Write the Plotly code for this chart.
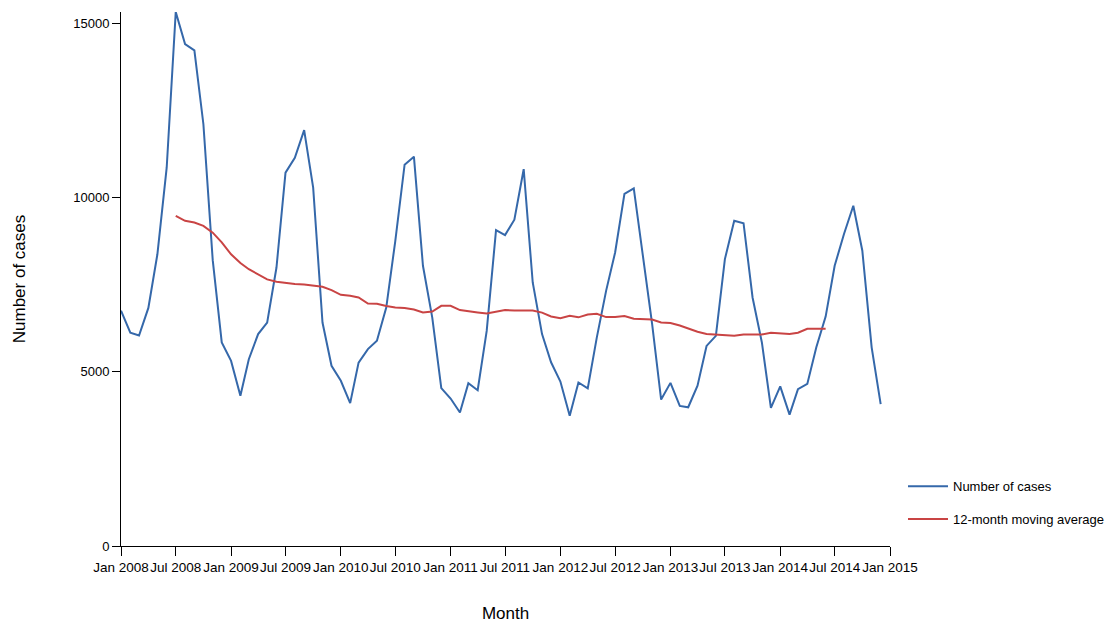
import plotly.graph_objects as go
import pandas as pd

months = pd.date_range("2008-01-01", periods=84, freq="MS")

cases = [
    6750, 6120, 6040, 6830, 8370, 10860, 15320, 14400, 14220, 12100, 8200, 5840,
    5310, 4310, 5360, 6080, 6410, 7990, 10710, 11140, 11930, 10280, 6410, 5170,
    4740, 4100, 5260, 5650, 5890, 6840, 8750, 10940, 11170, 8040, 6550, 4530,
    4230, 3830, 4670, 4470, 6170, 9060, 8920, 9360, 10810, 7560, 6080, 5270,
    4720, 3740, 4690, 4520, 5980, 7320, 8420, 10100, 10260, 8370, 6370, 4200,
    4680, 4020, 3980, 4600, 5740, 6030, 8230, 9330, 9260, 7130, 5840, 3960,
    4580, 3770, 4500, 4650, 5700, 6580, 8040, 8950, 9760, 8470, 5700, 4070,
]

moving_avg = [
    None, None, None, None, None, None,
    9470, 9330, 9280, 9185, 8990, 8710,
    8370, 8120, 7940, 7800, 7650, 7580, 7540, 7520, 7500, 7465, 7436, 7341,
    7207, 7180, 7130, 6957, 6950, 6883, 6843, 6825, 6786, 6700, 6728, 6891,
    6891, 6768, 6728, 6700, 6671, 6728, 6768, 6757, 6757, 6757, 6695, 6585,
    6538, 6604, 6560, 6642, 6662, 6567, 6567, 6596, 6519, 6519, 6499, 6413,
    6395, 6326, 6240, 6146, 6080, 6060, 6050, 6031, 6070, 6070, 6070, 6117,
    6108, 6080, 6117, 6231, 6231, 6231,
    None, None, None, None, None, None,
]

series_names = ["Number of cases", "12-month moving average"]
x_ticks = pd.date_range("2008-01-01", "2015-01-01", freq="6MS")
x_ticktext = [d.strftime("%b %Y") for d in x_ticks]
y_ticks = [0, 5000, 10000, 15000]
y_ticktext = [str(v) for v in y_ticks]

fig = go.Figure()
fig.add_trace(go.Scatter(
    x=months, y=cases, mode="lines", name=series_names[0],
    line=dict(color="#3568aa", width=2), legendgroup="a",
))
fig.add_trace(go.Scatter(
    x=months, y=moving_avg, mode="lines", name=series_names[1],
    line=dict(color="#c94444", width=2), legendgroup="b",
))

font_family = "Liberation Sans, Arial, sans-serif"
fig.update_layout(
    width=1107, height=615,
    margin=dict(l=113, r=225, t=4, b=77),
    plot_bgcolor="white", paper_bgcolor="white",
    font=dict(family=font_family, size=13, color="#000000"),
    showlegend=True,
    legend=dict(
        x=1.0169, xanchor="left", y=0.081, yanchor="middle",
        font=dict(size=13, color="#000000"),
        tracegroupgap=13, traceorder="grouped",
        bgcolor="rgba(0,0,0,0)", itemwidth=40,
    ),
    xaxis=dict(
        type="date",
        range=[months[0], pd.Timestamp("2015-01-01")],
        tickvals=x_ticks, ticktext=x_ticktext,
        showgrid=False, zeroline=False,
        showline=True, linecolor="#000000", linewidth=1,
        ticks="outside", ticklen=9, tickcolor="#000000",
        tickangle=0, automargin=False,
        tickfont=dict(size=13.5, color="#000000"),
        title=dict(text="Month", font=dict(size=17, color="#000000"), standoff=35),
    ),
    yaxis=dict(
        range=[0, 15320],
        tickvals=y_ticks, ticktext=y_ticktext,
        showgrid=False, zeroline=False,
        showline=True, linecolor="#000000", linewidth=1,
        ticks="outside", ticklen=8, tickcolor="#000000",
        automargin=False,
        tickfont=dict(size=13, color="#000000"),
        title=dict(text="Number of cases", font=dict(size=17, color="#000000"), standoff=43),
    ),
)

fig.write_html("out.html")
